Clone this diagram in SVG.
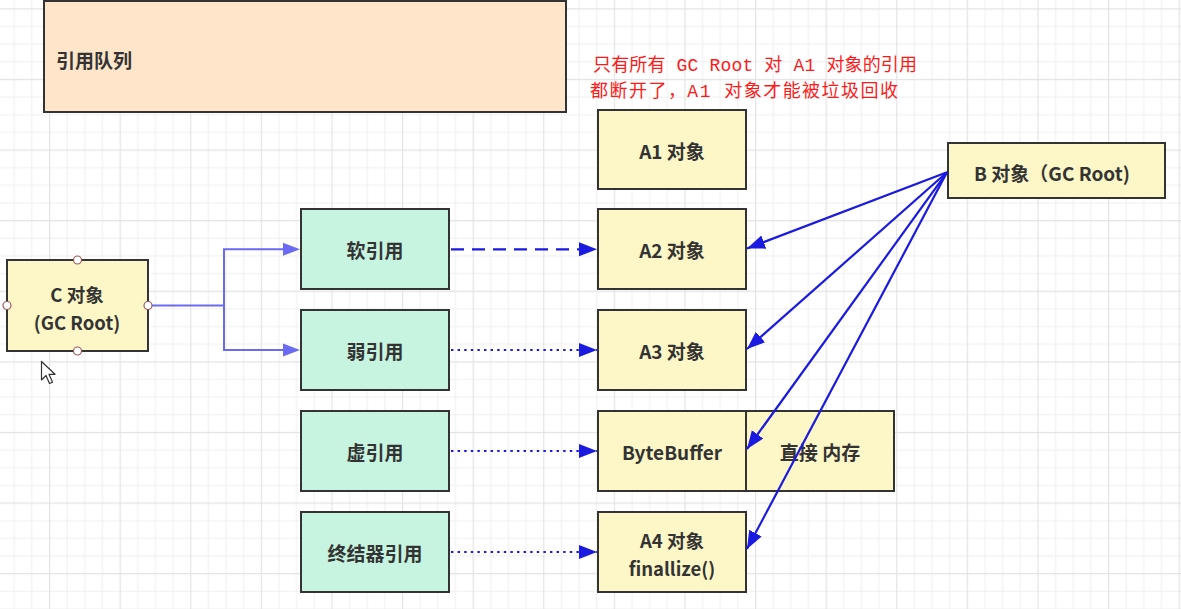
<svg xmlns="http://www.w3.org/2000/svg" width="1181" height="609" viewBox="0 0 1181 609">
  <defs>
    <pattern id="grid" patternUnits="userSpaceOnUse" x="49" y="8.3" width="70.6" height="70.6">
      <rect width="70.6" height="70.6" fill="#ffffff"/>
      <g stroke="#f0f0f0" stroke-width="1">
        <line x1="18.15" y1="0" x2="18.15" y2="70.6"/>
        <line x1="35.8" y1="0" x2="35.8" y2="70.6"/>
        <line x1="53.45" y1="0" x2="53.45" y2="70.6"/>
        <line x1="0" y1="18.15" x2="70.6" y2="18.15"/>
        <line x1="0" y1="35.8" x2="70.6" y2="35.8"/>
        <line x1="0" y1="53.45" x2="70.6" y2="53.45"/>
      </g>
      <g stroke="#e3e3e3" stroke-width="1.3">
        <line x1="0.5" y1="0" x2="0.5" y2="70.6"/>
        <line x1="0" y1="0.5" x2="70.6" y2="0.5"/>
      </g>
    </pattern>
    <marker id="arrB" markerUnits="userSpaceOnUse" markerWidth="19" markerHeight="15" refX="18" refY="7" orient="auto">
      <path d="M0,0 L18,7 L0,14 Z" fill="#1a1ae0"/>
    </marker>
    <style>
      .box { stroke: #333333; stroke-width: 2; }
      .yellow { fill: #fdf7c7; }
      .green { fill: #c6f4e0; }
      .peach { fill: #ffe5c9; }
      .lbl { font-family: "Noto Sans CJK SC", "Noto Sans", sans-serif; font-weight: bold; font-size: 19px; fill: #333333; text-anchor: middle; dominant-baseline: central; }
      .two { font-size: 18.5px; }
      .note { font-family: "Liberation Mono", "Noto Sans CJK SC", monospace; font-size: 18px; fill: #ff1a1a; }
      .edgeB { stroke: #1a1ae0; stroke-width: 2.2; fill: none; marker-end: url(#arrB); }
      .edgeC { stroke: #6a6af2; stroke-width: 2; fill: none; }
      .handle { fill: #ffffff; stroke: #9a5a5a; stroke-width: 1.2; }
    </style>
  </defs>

  <rect x="0" y="0" width="1181" height="609" fill="url(#grid)"/>

  <g id="queue">
    <rect class="box peach" x="44" y="1" width="522" height="111"/>
    <text class="lbl" x="56" y="59" style="text-anchor:start">引用队列</text>
  </g>

  <g id="note">
    <text class="note" x="593" y="71" textLength="324" lengthAdjust="spacing">只有所有 GC Root 对 A1 对象的引用</text>
    <text class="note" x="590" y="97" textLength="308" lengthAdjust="spacing">都断开了，A1 对象才能被垃圾回收</text>
  </g>

  <g id="a1">
    <rect class="box yellow" x="598" y="110" width="148" height="79"/>
    <text class="lbl" x="672" y="150">A1 对象</text>
  </g>
  <g id="a2">
    <rect class="box yellow" x="598" y="209" width="148" height="80"/>
    <text class="lbl" x="672" y="249">A2 对象</text>
  </g>
  <g id="a3">
    <rect class="box yellow" x="598" y="310" width="148" height="80"/>
    <text class="lbl" x="672" y="350">A3 对象</text>
  </g>
  <g id="bytebuffer">
    <rect class="box yellow" x="598" y="411" width="148" height="80"/>
    <text class="lbl" x="672" y="451">ByteBuffer</text>
  </g>
  <g id="direct">
    <rect class="box yellow" x="746" y="411" width="148" height="80"/>
    <text class="lbl" x="820" y="451">直接 内存</text>
  </g>
  <g id="a4">
    <rect class="box yellow" x="598" y="512" width="148" height="80"/>
    <text class="lbl two" x="672" y="540">A4 对象</text>
    <text class="lbl two" x="672" y="567.5">finallize()</text>
  </g>
  <g id="b">
    <rect class="box yellow" x="948" y="143" width="217" height="55"/>
    <text class="lbl" x="1052" y="172">B 对象（GC Root)</text>
  </g>
  <g id="c">
    <rect class="box yellow" x="7" y="260" width="141" height="91"/>
    <text class="lbl two" x="77" y="294">C 对象</text>
    <text class="lbl two" x="77" y="321.5">(GC Root)</text>
    <circle class="handle" cx="77.5" cy="260" r="4"/>
    <circle class="handle" cx="77.5" cy="351" r="4"/>
    <circle class="handle" cx="7" cy="305.5" r="4"/>
    <circle class="handle" cx="148" cy="305.5" r="4"/>
  </g>
  <g id="soft">
    <rect class="box green" x="301" y="209" width="148" height="80"/>
    <text class="lbl" x="375" y="249">软引用</text>
  </g>
  <g id="weak">
    <rect class="box green" x="301" y="310" width="148" height="80"/>
    <text class="lbl" x="375" y="350">弱引用</text>
  </g>
  <g id="phantom">
    <rect class="box green" x="301" y="411" width="148" height="80"/>
    <text class="lbl" x="375" y="451">虚引用</text>
  </g>
  <g id="final">
    <rect class="box green" x="301" y="512" width="148" height="80"/>
    <text class="lbl" x="375" y="552">终结器引用</text>
  </g>

  <g id="connectors">
    <path class="edgeC" d="M152,305.5 H224 V249.3 H283"/>
    <path class="edgeC" d="M224,305.5 V350 H283"/>
    <path d="M283,242.8 L300,249.3 L283,255.8 Z" fill="#6a6af2"/>
    <path d="M283,343.5 L300,350 L283,356.5 Z" fill="#6a6af2"/>

    <path class="edgeB" d="M451,249.3 H597" stroke-dasharray="13 8"/>
    <path class="edgeB" d="M451,350 H597" stroke-dasharray="2.4 4.2"/>
    <path class="edgeB" d="M451,451 H597" stroke-dasharray="2.4 4.2"/>
    <path class="edgeB" d="M451,552 H597" stroke-dasharray="2.4 4.2"/>

    <path class="edgeB" d="M947,172.3 L747,248.5"/>
    <path class="edgeB" d="M947,172.3 L747,349"/>
    <path class="edgeB" d="M947,172.3 L747,449"/>
    <path class="edgeB" d="M947,172.3 L747,549"/>
  </g>

  <g id="cursor">
    <path d="M41.5,361.5 L41.5,380 L46,375.5 L49.5,383.5 L52.5,382.2 L49,374.3 L55,374.3 Z" fill="#ffffff" stroke="#333333" stroke-width="1.2" stroke-linejoin="round"/>
  </g>
</svg>
